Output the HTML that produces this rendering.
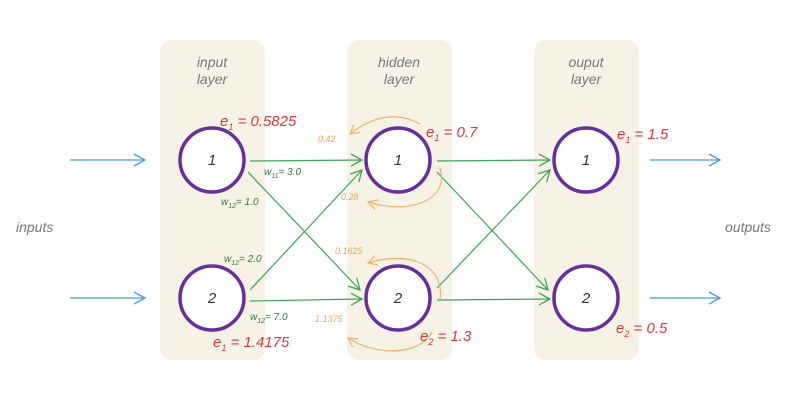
<!DOCTYPE html>
<html><head><meta charset="utf-8"><style>
html,body{margin:0;padding:0;background:#fff;width:794px;height:414px;overflow:hidden}
svg{display:block}
text{font-family:"Liberation Sans",sans-serif;font-style:italic}
</style></head><body>
<svg width="794" height="414" viewBox="0 0 794 414" xmlns="http://www.w3.org/2000/svg">
<defs>
<marker id="g" markerWidth="14" markerHeight="14" refX="12" refY="7" orient="auto" markerUnits="userSpaceOnUse"><path d="M1,1 L12,7 L1,13" fill="none" stroke="#3aa655" stroke-width="1.3"/></marker>
<marker id="b" markerWidth="14" markerHeight="14" refX="12" refY="7" orient="auto" markerUnits="userSpaceOnUse"><path d="M1,1 L12,7 L1,13" fill="none" stroke="#4a9ad6" stroke-width="1.3"/></marker>
<marker id="o" markerWidth="12" markerHeight="12" refX="10" refY="6" orient="auto" markerUnits="userSpaceOnUse"><path d="M1,1 L10,6 L1,11" fill="none" stroke="#f2b06a" stroke-width="1.2"/></marker>
</defs>
<rect x="160" y="40" width="105" height="320" rx="12" fill="#f6f3e6"/>
<rect x="347" y="40" width="105" height="320" rx="12" fill="#f6f3e6"/>
<rect x="534" y="40" width="105" height="320" rx="12" fill="#f6f3e6"/>
<g fill="#777" font-size="14" text-anchor="middle">
<text x="212" y="67">input</text><text x="212" y="84">layer</text>
<text x="399" y="67">hidden</text><text x="399" y="84">layer</text>
<text x="586" y="67">ouput</text><text x="586" y="84">layer</text>
</g>
<text x="16" y="232" fill="#777" font-size="14">inputs</text>
<text x="725" y="232" fill="#777" font-size="14">outputs</text>
<g stroke="#4a9ad6" stroke-width="1.3" fill="none">
<line x1="70" y1="160" x2="145" y2="160" marker-end="url(#b)"/>
<line x1="70" y1="298" x2="145" y2="298" marker-end="url(#b)"/>
<line x1="650" y1="160" x2="720" y2="160" marker-end="url(#b)"/>
<line x1="650" y1="298" x2="720" y2="298" marker-end="url(#b)"/>
</g>
<g stroke="#3aa655" stroke-width="1.2" fill="none">
<line x1="250" y1="161" x2="362" y2="160" marker-end="url(#g)"/>
<line x1="248" y1="172" x2="360" y2="290" marker-end="url(#g)"/>
<line x1="250" y1="290" x2="362" y2="170" marker-end="url(#g)"/>
<line x1="250" y1="301" x2="362" y2="299" marker-end="url(#g)"/>
<line x1="437" y1="161" x2="550" y2="160" marker-end="url(#g)"/>
<line x1="437" y1="172" x2="548" y2="290" marker-end="url(#g)"/>
<line x1="437" y1="288" x2="550" y2="170" marker-end="url(#g)"/>
<line x1="437" y1="300" x2="550" y2="299" marker-end="url(#g)"/>
</g>
<g stroke="#f2b06a" stroke-width="1.2" fill="none">
<path d="M420,124 C395,110 370,118 350,134" marker-end="url(#o)"/>
<path d="M440,168 C450,200 410,215 368,202" marker-end="url(#o)"/>
<path d="M440,300 C445,265 410,250 368,263" marker-end="url(#o)"/>
<path d="M432,332 C420,356 375,356 348,338" marker-end="url(#o)"/>
</g>
<g fill="#fff" stroke="#6a2d9c" stroke-width="3.5">
<circle cx="212" cy="160" r="32"/><circle cx="212" cy="298" r="32"/>
<circle cx="398" cy="160" r="32"/><circle cx="398" cy="298" r="32"/>
<circle cx="586" cy="160" r="32"/><circle cx="586" cy="298" r="32"/>
</g>
<g fill="#333" font-size="15" text-anchor="middle">
<text x="212" y="165">1</text><text x="212" y="303">2</text>
<text x="398" y="165">1</text><text x="398" y="303">2</text>
<text x="586" y="165">1</text><text x="586" y="303">2</text>
</g>
<g fill="#d63a3a" font-size="15">
<text x="220" y="126">e<tspan font-size="9" dy="4">1</tspan><tspan dy="-4"> = 0.5825</tspan></text>
<text x="426" y="137">e<tspan font-size="9" dy="4">1</tspan><tspan dy="-4"> = 0.7</tspan></text>
<text x="617" y="139">e<tspan font-size="9" dy="4">1</tspan><tspan dy="-4"> = 1.5</tspan></text>
<text x="213" y="347">e<tspan font-size="9" dy="4">1</tspan><tspan dy="-4"> = 1.4175</tspan></text>
<text x="420" y="341">e<tspan font-size="9" dy="4">2</tspan><tspan dy="-4"> = 1.3</tspan></text>
<text x="616" y="333">e<tspan font-size="9" dy="4">2</tspan><tspan dy="-4"> = 0.5</tspan></text>
</g>
<g fill="#2f7a3c" font-size="10">
<text x="264" y="175">w<tspan font-size="7" dy="3">11</tspan><tspan dy="-3">= 3.0</tspan></text>
<text x="221" y="205">w<tspan font-size="7" dy="3">12</tspan><tspan dy="-3">= 1.0</tspan></text>
<text x="224" y="262">w<tspan font-size="7" dy="3">12</tspan><tspan dy="-3">= 2.0</tspan></text>
<text x="250" y="320">w<tspan font-size="7" dy="3">12</tspan><tspan dy="-3">= 7.0</tspan></text>
</g>
<g fill="#f0a24e" font-size="9">
<text x="318" y="142">0.42</text>
<text x="341" y="200">0.28</text>
<text x="335" y="254">0.1625</text>
<text x="315" y="322">1.1375</text>
</g>
</svg>
</body></html>
